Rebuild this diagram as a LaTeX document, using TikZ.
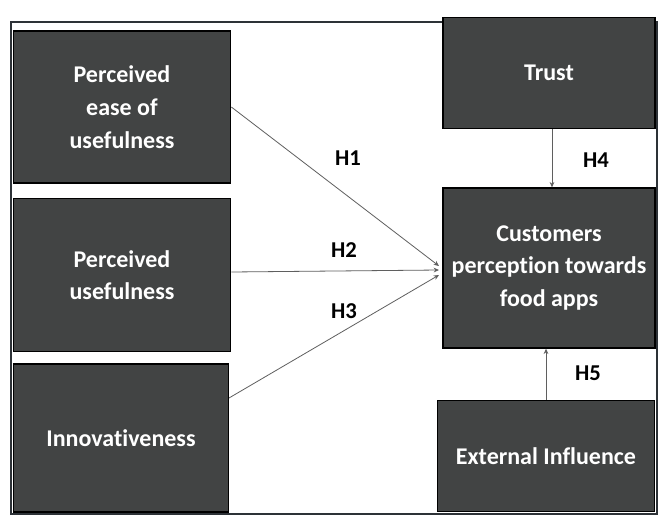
\documentclass[tikz,border=0pt]{standalone}
\usepackage{fontspec}
\setmainfont{Carlito}[Ligatures=NoCommon]
\usetikzlibrary{arrows.meta}

\definecolor{boxgray}{RGB}{66,68,68}
\definecolor{linegray}{RGB}{95,95,95}

\begin{document}
\begin{tikzpicture}[x=0.75pt,y=0.75pt,yscale=-1,xscale=1,
  factor/.style={draw=black, line width=1pt, fill=boxgray, text=white, align=center,
    font=\bfseries\fontsize{18}{24.5}\selectfont, inner sep=0pt},
  link/.style={draw=linegray, line width=0.6pt, -{Stealth[length=4pt,width=3.5pt]}},
  hyp/.style={font=\bfseries\fontsize{17}{20}\selectfont, inner sep=0.75pt}]
\useasboundingbox (0,0) rectangle (661,518);
\fill [white] (0,0) rectangle (661,518);
% outer frame
\draw [line width=1.2pt, color={rgb, 255:red, 45; green, 50; blue, 55 }] (11,22) rectangle (657,514);

% predictors
\node [factor, minimum width=163pt, minimum height=114pt] (peou) at (122,107) {Perceived\\ease of\\usefulness};
\node [factor, minimum width=163pt, minimum height=115pt] (pu) at (122,275) {Perceived\\usefulness};
\node [factor, minimum width=161pt, minimum height=111pt] (innov) at (121,438) {Innovativeness};

% right column
\node [factor, minimum width=159pt, minimum height=83pt] (trust) at (549,73) {Trust};
\node [factor, minimum width=159pt, minimum height=120pt] (cpfa) at (549,268) {Customers\\perception towards\\food apps};
\node [factor, minimum width=163pt, minimum height=83pt] (extinf) at (546,456) {External Influence};

% hypotheses
\coordinate (in1) at (439,266);
\coordinate (in2) at (439,270);
\coordinate (in3) at (439,275);
\draw [link] (peou.east |- 0,107) -- (in1);
\draw [link] (pu.east |- 0,272) -- (in2);
\draw [link] (innov.east |- 0,398) -- (in3);
\draw [link] (trust.south -| 552,0) -- (cpfa.north -| 552,0);
\draw [link] (extinf.north -| 546,0) -- (cpfa.south -| 546,0);

\draw (348,158) node [hyp] {H1};
\draw (344,250) node [hyp] {H2};
\draw (344,311) node [hyp] {H3};
\draw (596,160) node [hyp] {H4};
\draw (588,373) node [hyp] {H5};
\end{tikzpicture}
\end{document}
